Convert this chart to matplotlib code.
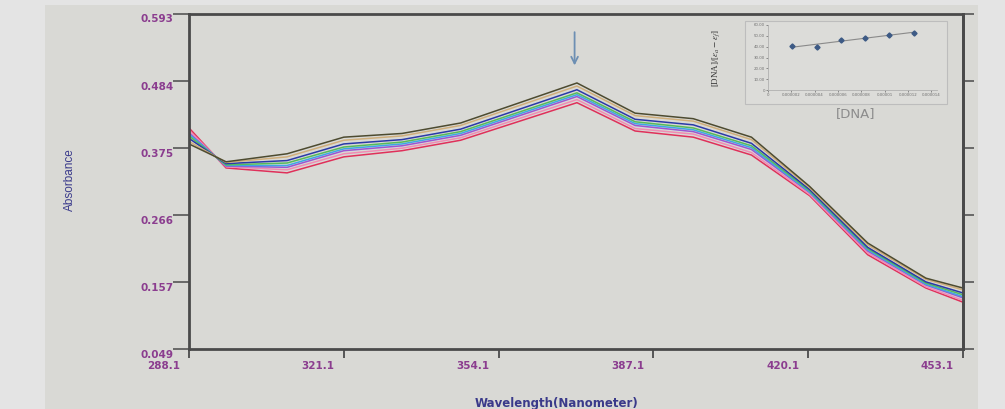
import numpy as np
import matplotlib
matplotlib.use("Agg")
import matplotlib.pyplot as plt
from matplotlib.patches import Rectangle
from matplotlib.transforms import ScaledTranslation

plt.rcParams['mathtext.fontset'] = 'stix'

# ---- titration spectra: absorbance vs wavelength ----
wavelength = [288.1, 296.0, 309.0, 321.1, 333.5, 346.0, 370.8, 383.2,
              395.6, 408.0, 420.4, 432.8, 445.2, 453.1]

abs_0 = [0.382, 0.353, 0.366, 0.393, 0.399, 0.416, 0.481, 0.432, 0.423, 0.393, 0.313, 0.221, 0.164, 0.148]
abs_1 = [0.386, 0.352, 0.361, 0.388, 0.395, 0.412, 0.476, 0.428, 0.419, 0.389, 0.311, 0.218, 0.162, 0.145]
abs_2 = [0.391, 0.350, 0.355, 0.382, 0.389, 0.406, 0.470, 0.422, 0.413, 0.383, 0.308, 0.214, 0.158, 0.140]
abs_3 = [0.395, 0.348, 0.351, 0.377, 0.385, 0.402, 0.465, 0.418, 0.408, 0.379, 0.306, 0.212, 0.156, 0.137]
abs_4 = [0.398, 0.347, 0.347, 0.374, 0.382, 0.399, 0.462, 0.415, 0.405, 0.376, 0.304, 0.210, 0.154, 0.134]
abs_5 = [0.400, 0.346, 0.344, 0.371, 0.379, 0.396, 0.459, 0.412, 0.402, 0.373, 0.303, 0.208, 0.153, 0.132]
abs_6 = [0.404, 0.345, 0.340, 0.366, 0.375, 0.392, 0.454, 0.407, 0.398, 0.368, 0.300, 0.205, 0.150, 0.128]
abs_7 = [0.408, 0.343, 0.335, 0.361, 0.371, 0.388, 0.449, 0.403, 0.393, 0.364, 0.298, 0.202, 0.148, 0.125]

series = [abs_7, abs_6, abs_5, abs_4, abs_3, abs_2, abs_1, abs_0]
colors = ['#e0305a', '#f08cb4', '#9b55d2', '#3ea6e6', '#55bb5a', '#2a3aa8', '#cfae7c', '#4d4b30']

x_ticks = [288.1, 321.1, 354.1, 387.1, 420.1, 453.1]
x_tick_labels = ['288.1', '321.1', '354.1', '387.1', '420.1', '453.1']
y_ticks = [0.049, 0.157, 0.266, 0.375, 0.484, 0.593]
y_tick_labels = ['0.049', '0.157', '0.266', '0.375', '0.484', '0.593']
peak_wavelength = 370.8

# ---- inset: binding plot ----
dna_conc = [2.1e-6, 4.2e-6, 6.3e-6, 8.3e-6, 10.4e-6, 12.5e-6]
dna_ratio = [40.4, 40.1, 46.5, 47.8, 50.8, 53.0]
inset_x_ticks = [0, 2e-6, 4e-6, 6e-6, 8e-6, 1e-5, 1.2e-5, 1.4e-5]
inset_x_labels = ['0', '0.000002', '0.000004', '0.000006', '0.000008', '0.00001', '0.000012', '0.000014']
inset_y_ticks = [0, 10, 20, 30, 40, 50, 60]
inset_y_labels = ['0', '10.00', '20.00', '30.00', '40.00', '50.00', '60.00']

W, H = 1005, 409
fig = plt.figure(figsize=(W / 100, H / 100), dpi=100)
fig.patch.set_facecolor('#e4e4e4')
fig.patches.append(Rectangle((45 / W, 0), (978 - 45) / W, (H - 5) / H,
                             transform=fig.transFigure, facecolor='#d9d9d5',
                             edgecolor='none', zorder=-10))

bg = '#d9d9d5'
ax = fig.add_axes([189 / W, 60 / H, (963 - 189) / W, (349 - 14) / H])
ax.set_facecolor(bg)

for vals, c in zip(series, colors):
    ax.plot(wavelength, vals, color=c, lw=1.1, solid_joinstyle='miter')

ax.set_xlim(288.1, 453.1)
ax.set_ylim(0.049, 0.593)

spine_c = '#4a4a4a'
for s in ax.spines.values():
    s.set_color(spine_c)
    s.set_linewidth(2.0)

tick_c = '#555555'
lab_c = '#8b3d8f'
ax.set_xticks(x_ticks)
ax.set_xticklabels(x_tick_labels)
ax.set_yticks(y_ticks)
ax.set_yticklabels(y_tick_labels)
ax.tick_params(axis='x', direction='out', length=6.5, width=1.4, color=tick_c,
               pad=2.0, labelsize=7.5, labelcolor=lab_c)
ax.tick_params(axis='y', direction='out', length=11.5, width=1.2, color=tick_c,
               pad=-0.5, labelsize=7.5, labelcolor=lab_c)

for lbl in ax.get_xticklabels():
    lbl.set_fontweight('bold')
    lbl.set_ha('right')
    lbl.set_transform(lbl.get_transform() + ScaledTranslation(-0.09, 0, fig.dpi_scale_trans))
for lbl in ax.get_yticklabels():
    lbl.set_fontweight('bold')
    lbl.set_transform(lbl.get_transform() + ScaledTranslation(0, -0.045, fig.dpi_scale_trans))

# ticks on the right side, no labels
sec = ax.secondary_yaxis('right')
sec.set_yticks(y_ticks)
sec.tick_params(direction='out', length=8, width=1.2, color=tick_c, labelright=False)
sec.spines['right'].set_color(spine_c)
sec.spines['right'].set_linewidth(2.0)

fig.text(70 / W, 1 - 180 / H, 'Absorbance', rotation=90, ha='center', va='center',
         fontsize=8.5, color='#3b3b8c', family='Liberation Sans')
fig.text(557 / W, 1 - 403 / H, 'Wavelength(Nanometer)', ha='center', va='center',
         fontsize=8.5, fontweight='bold', color='#3a3a8a', family='DejaVu Sans')

# arrow marking the decreasing band
ax.annotate('', xy=(peak_wavelength - 0.5, 0.505), xytext=(peak_wavelength - 0.5, 0.568),
            arrowprops=dict(arrowstyle='->', color='#6d8fb3', lw=1.3,
                            mutation_scale=12))

# ---- inset ----
fig.patches.append(Rectangle((745 / W, 1 - 104 / H), (947 - 745) / W, (104 - 21) / H,
                             transform=fig.transFigure, facecolor='#dcdcd9',
                             edgecolor='#bdbdbd', lw=0.8, zorder=1))
iax = fig.add_axes([768 / W, 1 - 90 / H, (937 - 768) / W, (90 - 25) / H])
iax.set_facecolor('none')
iax.set_zorder(2)
iax.plot(dna_conc, dna_ratio, 'D', ms=2.6, color='#3d5a85', zorder=3)
fit = np.polyfit(dna_conc, dna_ratio, 1)
fx = np.array([dna_conc[0], dna_conc[-1]])
iax.plot(fx, np.polyval(fit, fx), color='#8a8a8a', lw=0.8, zorder=2)
iax.set_xlim(0, 1.45e-5)
iax.set_ylim(0, 60)
iax.set_xticks(inset_x_ticks)
iax.set_xticklabels(inset_x_labels)
iax.set_yticks(inset_y_ticks)
iax.set_yticklabels(inset_y_labels)
iax.tick_params(labelsize=2.8, labelcolor='#707070', length=1.2, width=0.5,
                color='#666666', pad=1)
for side in ['top', 'right']:
    iax.spines[side].set_visible(False)
for side in ['left', 'bottom']:
    iax.spines[side].set_color('#b0b0b0')
    iax.spines[side].set_linewidth(0.6)

fig.text(856 / W, 1 - 114 / H, '[DNA]', ha='center', va='center',
         fontsize=9.5, color='#8c8c8c', family='DejaVu Sans')
fig.text(716 / W, 1 - 58 / H, r'[DNA]/[$\epsilon_a - \epsilon_f$]', rotation=90,
         ha='center', va='center', fontsize=6.5, color='#333333',
         family='Liberation Serif')

fig.savefig('out.png', dpi=100, facecolor=fig.get_facecolor())
